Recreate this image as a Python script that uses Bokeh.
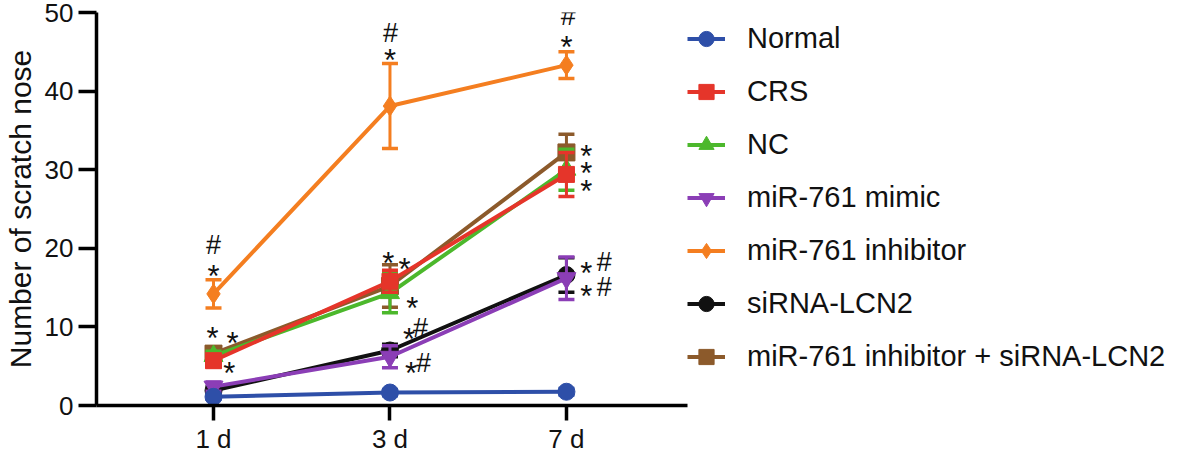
import numpy as np
from bokeh.plotting import figure
from bokeh.models import Legend, LegendItem, FixedTicker, Range1d
from bokeh.core.properties import value
from bokeh.embed import file_html
from bokeh.resources import INLINE

# ---------------- data ----------------
days = ["1 d", "3 d", "7 d"]
groups = ["Normal", "CRS", "NC", "miR-761 mimic", "miR-761 inhibitor",
          "siRNA-LCN2", "miR-761 inhibitor + siRNA-LCN2"]

normal_mean = [1.1, 1.65, 1.75]
normal_err = [0.3, 0.4, 0.4]
crs_mean = [5.7, 15.8, 29.4]
crs_err = [0.8, 1.4, 2.8]
nc_mean = [6.3, 14.3, 30.0]
nc_err = [0.6, 2.5, 2.6]
mimic_mean = [2.4, 6.2, 16.2]
mimic_err = [0.6, 1.4, 2.7]
inhib_mean = [14.2, 38.1, 43.3]
inhib_err = [1.8, 5.4, 1.7]
sirna_mean = [1.9, 7.0, 16.6]
sirna_err = [0.5, 0.8, 2.2]
combo_mean = [6.6, 15.2, 32.2]
combo_err = [0.7, 2.7, 2.3]

# significance marks (x near the day index, y in data units)
star_x = [1.0, 0.994, 1.108, 1.09, 1.99, 2.082, 2.127, 2.108, 2.12, 2.0, 3.0, 3.113, 3.113, 3.113, 3.113, 3.113]
star_y = [17.4, 9.5, 8.9, 5.1, 19.1, 18.3, 13.3, 9.4, 5.1, 44.9, 46.6, 32.7, 30.5, 28.2, 17.8, 14.9]
hash_x = [1.0, 2.173, 2.19, 2.003, 3.011, 3.215, 3.215]
hash_y = [20.4, 9.9, 5.4, 47.4, 49.6, 18.2, 15.1]

# ---------------- figure ----------------
FL, FR, FT, FB, H = 96, 687, 12, 405, 453
p = figure(frame_width=FR - FL, frame_height=FB - FT,
           x_range=Range1d(0.337, 3.686), y_range=Range1d(0, 50),
           min_border_left=FL, min_border_right=0,
           min_border_top=FT, min_border_bottom=H - FB,
           output_backend="svg", toolbar_location=None)
p.outline_line_color = None
p.xgrid.visible = False
p.ygrid.visible = False
p.background_fill_color = "white"
p.border_fill_color = "white"

FONT = "Liberation Sans"
x = np.arange(1, len(days) + 1)

for ax in (p.xaxis[0], p.yaxis[0]):
    ax.axis_line_width = 3.5
    ax.axis_line_color = "black"
    ax.major_tick_line_width = 3.5
    ax.major_tick_line_color = "black"
    ax.major_tick_in = 0
    ax.minor_tick_line_color = None
    ax.major_label_text_font = FONT
    ax.major_label_text_font_size = "26px"
    ax.major_label_text_color = "#111111"

p.xaxis.ticker = FixedTicker(ticks=list(x))
p.xaxis.major_label_overrides = {int(i): d for i, d in zip(x, days)}
p.xaxis.major_tick_out = 15
p.xaxis.major_label_standoff = 3

p.yaxis.ticker = FixedTicker(ticks=[0, 10, 20, 30, 40, 50])
p.yaxis.major_tick_out = 18
p.yaxis.major_label_standoff = 5
p.yaxis.axis_label = "Number of scratch nose"
p.yaxis.axis_label_text_font = FONT
p.yaxis.axis_label_text_font_size = "30px"
p.yaxis.axis_label_text_font_style = "normal"
p.yaxis.axis_label_text_color = "#111111"
p.yaxis.axis_label_standoff = 5

series = {
    "Normal": (normal_mean, normal_err, "#2E4FA8", "circle", 17),
    "CRS": (crs_mean, crs_err, "#E5352A", "square", 16),
    "NC": (nc_mean, nc_err, "#4CB82C", "triangle", 19),
    "miR-761 mimic": (mimic_mean, mimic_err, "#8B3EB6", "inverted_triangle", 19),
    "miR-761 inhibitor": (inhib_mean, inhib_err, "#F47E20", "diamond", 20),
    "siRNA-LCN2": (sirna_mean, sirna_err, "#111111", "circle", 17),
    "miR-761 inhibitor + siRNA-LCN2": (combo_mean, combo_err, "#8C5A2B", "square", 17),
}
draw_order = ["miR-761 inhibitor + siRNA-LCN2", "siRNA-LCN2", "miR-761 mimic",
              "NC", "CRS", "miR-761 inhibitor", "Normal"]

handles = {}
for name in draw_order:
    mean, err, col, mk, sz = series[name]
    m = np.array(mean)
    e = np.array(err)
    p.segment(x, m - e, x, m + e, line_color=col, line_width=3)
    p.scatter(x, m + e, marker="dash", size=16, line_color=col, line_width=3.5)
    p.scatter(x, m - e, marker="dash", size=16, line_color=col, line_width=3.5)
    lr = p.line(x, m, line_color=col, line_width=4)
    mr = p.scatter(x, m, marker=mk, size=sz, fill_color=col, line_color=col)
    handles[name] = [lr, mr]

p.text(star_x, star_y, text=["*"] * len(star_x), text_font=value(FONT),
       text_font_size="31px", text_align="center", text_baseline="middle",
       text_color="#111111", y_offset=8)
p.text(hash_x, hash_y, text=["#"] * len(hash_x), text_font=value(FONT),
       text_font_size="27px", text_align="center", text_baseline="middle",
       text_color="#111111")

row_h = 53
legend = Legend(items=[LegendItem(label=g, renderers=handles[g]) for g in groups],
                location="top_left", orientation="vertical",
                label_text_font=FONT, label_text_font_size="29px",
                label_text_color="#111111",
                glyph_width=38, glyph_height=row_h, label_height=row_h,
                spacing=0, label_standoff=22, padding=0, margin=0,
                border_line_color=None, background_fill_alpha=0)
p.add_layout(legend, "right")

open("out.html", "w").write(file_html(p, INLINE))
